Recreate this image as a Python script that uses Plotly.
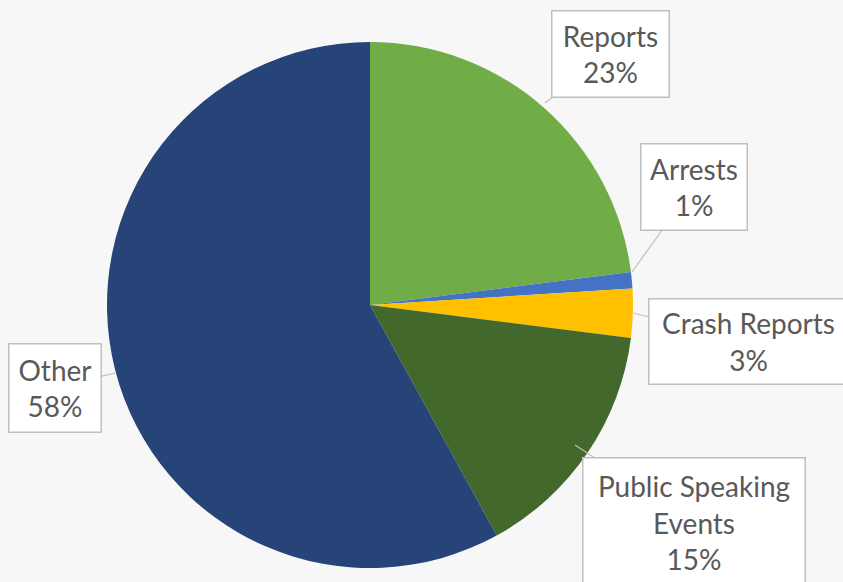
import plotly.graph_objects as go

W, H = 843, 582

categories = ["Reports", "Arrests", "Crash Reports", "Public Speaking Events", "Other"]
values = [23, 1, 3, 15, 58]
label_text = ["Reports", "Arrests", "Crash Reports", "Public Speaking<br>Events", "Other"]
colors = ["#70AD47", "#4472C4", "#FFC000", "#43682B", "#264478"]

# callout layout (pixels): anchor point on pie, box centre, box size
anchors = [(545, 103), (632, 272), (633, 313), (575, 445), (115, 373)]
box_centres = [(610, 53.5), (693.5, 186.5), (748, 341), (693.5, 522), (54.5, 387.5)]
box_sizes = [(118, 87), (107, 87), (200, 86), (223, 130), (93, 89)]

cx, cy, r = 370, 305, 263

fig = go.Figure(go.Pie(
    labels=categories,
    values=values,
    marker=dict(colors=colors, line=dict(width=0)),
    sort=False,
    direction="clockwise",
    rotation=0,
    textinfo="none",
    hoverinfo="label+percent",
    showlegend=False,
    domain=dict(x=[(cx - r) / W, (cx + r) / W],
                y=[(H - cy - r) / H, (H - cy + r) / H]),
))

total = sum(values)
annotations = []
for lab, v, (px, py), (bx, by), (bw, bh) in zip(label_text, values, anchors, box_centres, box_sizes):
    annotations.append(dict(
        x=px / W, y=1 - py / H, xref="paper", yref="paper",
        text=f"{lab}<br>{round(100 * v / total)}%",
        showarrow=True, arrowhead=0, arrowwidth=1.2, arrowcolor="#bfbfbf",
        ax=bx - px, ay=by - py, standoff=0, startstandoff=0,
        width=bw - 6, height=bh - 6, align="center", valign="middle",
        bgcolor="#ffffff", bordercolor="#bfbfbf", borderwidth=1.5, borderpad=2,
        font=dict(family="Lato, Open Sans, sans-serif", size=28, color="#595959"),
    ))

fig.update_layout(
    width=W, height=H,
    margin=dict(l=0, r=0, t=0, b=0),
    paper_bgcolor="#f7f7f7",
    plot_bgcolor="#f7f7f7",
    annotations=annotations,
)

fig.write_html(
    "out.html",
    config={"displayModeBar": False},
    post_script="document.body.style.margin='0';document.body.style.overflow='hidden';",
)
